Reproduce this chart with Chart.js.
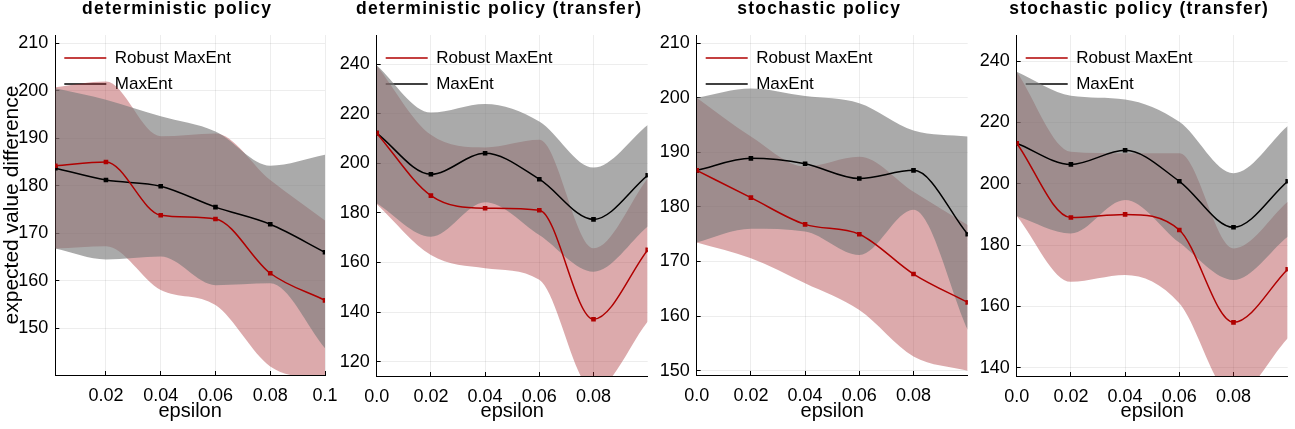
<!DOCTYPE html>
<html>
<head>
<meta charset="utf-8">
<script src="https://cdn.jsdelivr.net/npm/chart.js@4.4.1/dist/chart.umd.min.js"></script>
<style>
  html, body { margin: 0; padding: 0; background: #fff; overflow: hidden; }
  .panel { position: absolute; top: 0; height: 429px; }
</style>
</head>
<body>
<div class="panel" style="left:0px;width:340px"><canvas id="c1" width="340" height="429"></canvas></div>
<div class="panel" style="left:335px;width:322px"><canvas id="c2" width="322" height="429"></canvas></div>
<div class="panel" style="left:657px;width:319px"><canvas id="c3" width="319" height="429"></canvas></div>
<div class="panel" style="left:976px;width:319px"><canvas id="c4" width="319" height="429"></canvas></div>
<script>
// epsilon values
const epsDet = [0.0015, 0.02, 0.04, 0.06, 0.08, 0.1];
const eps = [0, 0.02, 0.04, 0.06, 0.08, 0.1];

// deterministic policy
const detRobust   = [184.2, 185.0, 173.8, 173.0, 161.6, 155.9];
const detRobustHi = [200.7, 201.9, 190.4, 191.0, 181.2, 172.7];
const detRobustLo = [166.8, 167.3, 158.1, 154.9, 142.0, 139.1];
const detMaxEnt   = [183.7, 181.2, 179.9, 175.5, 171.9, 166.0];
const detMaxEntHi = [200.5, 198.1, 194.6, 191.4, 184.2, 186.5];
const detMaxEntLo = [166.8, 164.5, 165.1, 159.1, 159.5, 145.8];

// deterministic policy (transfer)
const tdetRobust   = [212.2, 187.0, 181.9, 181.1, 137.1, 165.1];
const tdetRobustHi = [239.5, 211.5, 206.4, 209.5, 165.7, 194.0];
const tdetRobustLo = [183.6, 163.0, 157.7, 153.0, 108.5, 136.2];
const tdetMaxEnt   = [212.2, 195.6, 204.1, 193.6, 177.4, 195.2];
const tdetMaxEntHi = [239.5, 220.5, 224.0, 216.9, 198.3, 215.5];
const tdetMaxEntLo = [183.9, 170.4, 184.3, 171.1, 156.3, 174.5];

// stochastic policy
const stoRobust   = [186.7, 181.7, 176.8, 175.0, 167.7, 162.5];
const stoRobustHi = [200.0, 192.9, 187.4, 189.2, 182.8, 176.7];
const stoRobustLo = [173.5, 170.6, 166.0, 161.1, 152.6, 150.0];
const stoMaxEnt   = [186.7, 188.9, 187.9, 185.2, 186.7, 175.0];
const stoMaxEntHi = [200.0, 201.7, 200.3, 199.0, 194.0, 192.9];
const stoMaxEntLo = [173.5, 176.0, 175.5, 171.2, 179.5, 157.5];

// stochastic policy (transfer)
const tstoRobust   = [213.2, 189.0, 190.0, 184.9, 154.8, 172.1];
const tstoRobustHi = [236.5, 210.4, 209.9, 209.9, 178.9, 194.1];
const tstoRobustLo = [189.5, 168.0, 170.2, 161.0, 130.7, 149.6];
const tstoMaxEnt   = [213.2, 206.3, 210.9, 200.8, 185.8, 200.8];
const tstoMaxEntHi = [236.5, 228.7, 227.5, 220.2, 203.4, 218.8];
const tstoMaxEntLo = [189.5, 183.8, 194.7, 180.8, 168.6, 182.7];

// tick labels
const xTicksDet  = [0.02, 0.04, 0.06, 0.08, 0.1];
const xLabelsDet = ['0.02', '0.04', '0.06', '0.08', '0.1'];
const xTicks     = [0, 0.02, 0.04, 0.06, 0.08];
const xLabels    = ['0.0', '0.02', '0.04', '0.06', '0.08'];
const yTicks150  = [150, 160, 170, 180, 190, 200, 210];
const yTicks120  = [120, 140, 160, 180, 200, 220, 240];
const yTicks140  = [140, 160, 180, 200, 220, 240];

const FUENTE = "'Liberation Sans', Arial, Helvetica, sans-serif";
const ROJO = '#b00000';
const GRIS = 'rgba(124, 124, 124, 0.65)';
const ROSA = 'rgba(168, 43, 48, 0.4)';

function puntos(xs, ys) {
    return xs.map((x, i) => ({ x: x, y: ys[i] }));
}

// title drawn over the plot area (slightly left of centre, like the original)
const tituloPanel = {
    id: 'tituloPanel',
    afterDraw(chart, args, opts) {
        const ctx = chart.ctx;
        const area = chart.chartArea;
        ctx.save();
        ctx.font = 'bold 17.5px ' + FUENTE;
        ctx.letterSpacing = '1.3px';
        ctx.fillStyle = '#000';
        ctx.textAlign = 'center';
        ctx.textBaseline = 'alphabetic';
        ctx.fillText(opts.text, (area.left + area.right) / 2 - 13, 13.5);
        ctx.restore();
    }
};

function banda(label, data, color, relleno) {
    return {
        label: label,
        data: data,
        borderColor: 'transparent',
        borderWidth: 0,
        backgroundColor: color,
        pointRadius: 0,
        fill: relleno
    };
}

function crearGrafica(id, p) {
    return new Chart(document.getElementById(id), {
        type: 'line',
        data: {
            datasets: [
                { label: 'Robust MaxEnt', data: puntos(p.x, p.robust), borderColor: ROJO, backgroundColor: ROJO,
                  borderWidth: 1.5, pointStyle: 'rect', pointRadius: 2.2, fill: false },
                { label: 'MaxEnt', data: puntos(p.x, p.maxent), borderColor: '#000', backgroundColor: '#000',
                  borderWidth: 1.5, pointStyle: 'rect', pointRadius: 2.2, fill: false },
                banda('maxentHi', puntos(p.x, p.maxentHi), GRIS, '+1'),
                banda('maxentLo', puntos(p.x, p.maxentLo), GRIS, false),
                banda('robustHi', puntos(p.x, p.robustHi), ROSA, '+1'),
                banda('robustLo', puntos(p.x, p.robustLo), ROSA, false)
            ]
        },
        options: {
            responsive: false,
            animation: false,
            events: [],
            layout: { padding: { top: 35, right: p.padRight, left: 0, bottom: 0 } },
            elements: { line: { cubicInterpolationMode: 'monotone', capBezierPoints: false } },
            plugins: {
                filler: { drawTime: 'beforeDatasetsDraw' },
                tooltip: { enabled: false },
                legend: {
                    position: 'chartArea',
                    align: 'start',
                    // the empty title only pushes the entries down into the plot
                    title: { display: true, text: ' ', font: { size: 5, lineHeight: 1 }, padding: { top: 35.5, bottom: 0 } },
                    labels: {
                        filter: item => item.datasetIndex < 2,
                        usePointStyle: true,
                        pointStyle: 'line',
                        pointStyleWidth: 42,
                        padding: 9,
                        color: '#000',
                        font: { family: FUENTE, size: 17 }
                    }
                },
                tituloPanel: { text: p.title }
            },
            scales: {
                x: {
                    type: 'linear',
                    min: p.xMin,
                    max: p.xMax,
                    afterBuildTicks: s => { s.ticks = p.xTicks.map(v => ({ value: v })); },
                    afterFit: s => { s.height = p.xHeight; s.paddingLeft = 0; s.paddingRight = 0; },
                    border: { color: '#000', width: 1 },
                    grid: { color: 'rgba(0,0,0,0.07)', tickLength: -4, tickColor: '#000' },
                    ticks: {
                        color: '#000',
                        font: { family: FUENTE, size: 18 },
                        padding: 14,
                        maxRotation: 0,
                        callback: v => p.xLabels[p.xTicks.indexOf(v)]
                    },
                    title: { display: true, text: 'epsilon', color: '#000',
                             font: { family: FUENTE, size: 20 }, padding: { top: 0, bottom: 6 } }
                },
                y: {
                    min: p.yMin,
                    max: p.yMax,
                    afterBuildTicks: s => { s.ticks = p.yTicks.map(v => ({ value: v })); },
                    afterFit: s => { s.width = p.yWidth; s.paddingTop = 0; s.paddingBottom = 0; },
                    border: { color: '#000', width: 1 },
                    grid: { color: 'rgba(0,0,0,0.07)', tickLength: -4, tickColor: '#000' },
                    ticks: {
                        color: '#000',
                        font: { family: FUENTE, size: 18 },
                        padding: 11,
                        callback: v => String(v)
                    },
                    title: { display: p.yTitle, text: 'expected value difference', color: '#000',
                             font: { family: FUENTE, size: 21 }, padding: 0 }
                }
            }
        },
        plugins: [tituloPanel]
    });
}

crearGrafica('c1', {
    title: 'deterministic policy', x: epsDet,
    robust: detRobust, robustHi: detRobustHi, robustLo: detRobustLo,
    maxent: detMaxEnt, maxentHi: detMaxEntHi, maxentLo: detMaxEntLo,
    xMin: 0.0015, xMax: 0.1, xTicks: xTicksDet, xLabels: xLabelsDet,
    yMin: 140.2, yMax: 211.7, yTicks: yTicks150, yTitle: true,
    yWidth: 55.3, padRight: 15, xHeight: 54
});

crearGrafica('c2', {
    title: 'deterministic policy (transfer)', x: eps,
    robust: tdetRobust, robustHi: tdetRobustHi, robustLo: tdetRobustLo,
    maxent: tdetMaxEnt, maxentHi: tdetMaxEntHi, maxentLo: tdetMaxEntLo,
    xMin: 0, xMax: 0.1, xTicks: xTicks, xLabels: xLabels,
    yMin: 114.2, yMax: 251.8, yTicks: yTicks120, yTitle: false,
    yWidth: 41.7, padRight: 9.3, xHeight: 53
});

crearGrafica('c3', {
    title: 'stochastic policy', x: eps,
    robust: stoRobust, robustHi: stoRobustHi, robustLo: stoRobustLo,
    maxent: stoMaxEnt, maxentHi: stoMaxEntHi, maxentLo: stoMaxEntLo,
    xMin: 0, xMax: 0.1, xTicks: xTicks, xLabels: xLabels,
    yMin: 149.2, yMax: 211.5, yTicks: yTicks150, yTitle: false,
    yWidth: 39.7, padRight: 8.3, xHeight: 54
});

crearGrafica('c4', {
    title: 'stochastic policy (transfer)', x: eps,
    robust: tstoRobust, robustHi: tstoRobustHi, robustLo: tstoRobustLo,
    maxent: tstoMaxEnt, maxentHi: tstoMaxEntHi, maxentLo: tstoMaxEntLo,
    xMin: 0, xMax: 0.1, xTicks: xTicks, xLabels: xLabels,
    yMin: 137.3, yMax: 248.5, yTicks: yTicks140, yTitle: false,
    yWidth: 40.7, padRight: 7.3, xHeight: 53
});
</script>
</body>
</html>
